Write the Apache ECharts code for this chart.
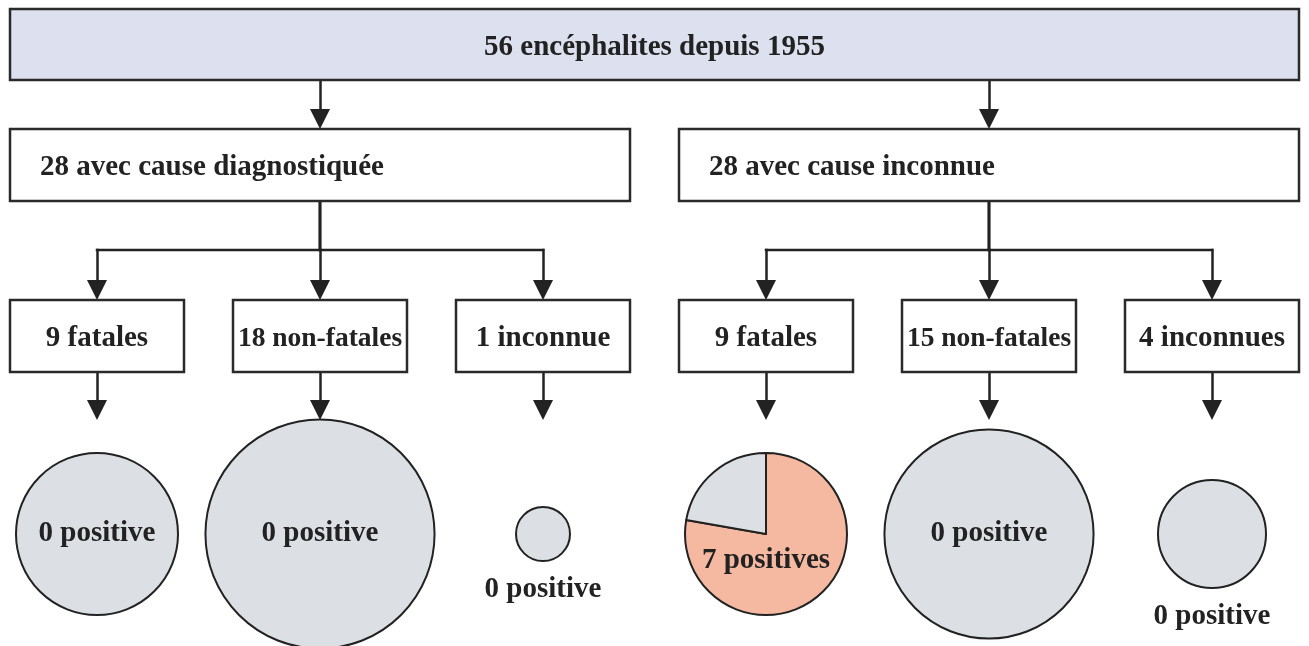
<!DOCTYPE html>
<html><head><meta charset="utf-8">
<script src="https://cdn.jsdelivr.net/npm/echarts@6/dist/echarts.min.js"></script>
<style>html,body{margin:0;padding:0;background:#fff}#c{width:1309px;height:646px}</style>
</head><body><div id="c"></div>
<script>
// ---------- data ----------
const rootLabels = ['56 encéphalites depuis 1955'];
const groupLabels = ['28 avec cause diagnostiquée', '28 avec cause inconnue'];
const outcomeLabels = ['9 fatales', '18 non-fatales', '1 inconnue', '9 fatales', '15 non-fatales', '4 inconnues'];
const outcomeGroups = [0, 0, 0, 1, 1, 1];
const outcomeCounts = [9, 18, 1, 9, 15, 4];
const positiveCounts = [0, 0, 0, 7, 0, 0];

// ---------- layout & style ----------
const W = 1309, H = 646;
const L = {
  leafX0: 97, leafStep: 223, leafHalfW: 87,
  rootY: [9, 80], groupY: [129, 201], leafY: [300, 372],
  branchY: 250, arrowTipY: 420, circleY: 534,
  radiusPerSqrt: 27, arrowSize: 20,
  groupPadLeft: 30, textDy: 3, circleTextDy: 4
};
const FONT = '"Liberation Serif", "Times New Roman", serif';
const FS = 29;
const INK = '#222222';
const GREY = '#dcdfe3';
const PINK = '#f5b9a1';
const ROOT_FILL = '#dde1ef';

const ctx = document.createElement('canvas').getContext('2d');
function fitSize(text, maxW, size) {
  while (size > 10) {
    ctx.font = 'bold ' + size + 'px ' + FONT;
    if (ctx.measureText(text).width <= maxW) break;
    size -= 0.5;
  }
  return size;
}

// leaf geometry
const leafX = outcomeLabels.map((_, i) => L.leafX0 + i * L.leafStep);
const groupIdx = groupLabels.map((_, g) => outcomeGroups.map((gg, i) => gg === g ? i : -1).filter(i => i >= 0));
const groupBox = groupIdx.map(ids => ({
  x0: leafX[ids[0]] - L.leafHalfW, x1: leafX[ids[ids.length - 1]] + L.leafHalfW,
  cx: ids.reduce((s, i) => s + leafX[i], 0) / ids.length
}));

// boxes (built from labels + layout)
const boxes = [];
boxes.push({ x0: leafX[0] - L.leafHalfW, x1: leafX[leafX.length - 1] + L.leafHalfW, y0: L.rootY[0], y1: L.rootY[1],
  text: rootLabels[0], fill: ROOT_FILL, align: 'center', size: FS });
groupLabels.forEach((t, g) => boxes.push({ x0: groupBox[g].x0, x1: groupBox[g].x1, y0: L.groupY[0], y1: L.groupY[1],
  text: t, fill: '#ffffff', align: 'left', size: FS }));
outcomeLabels.forEach((t, i) => boxes.push({ x0: leafX[i] - L.leafHalfW, x1: leafX[i] + L.leafHalfW, y0: L.leafY[0], y1: L.leafY[1],
  text: t, fill: '#ffffff', align: 'center', size: fitSize(t, 2 * L.leafHalfW - 8, FS) }));

// connectors: elbow parts (no arrow) + straight arrowed segments
const half = L.arrowSize / 2;
const elbows = [];
const arrows = [];
groupBox.forEach(gb => arrows.push({ coords: [[gb.cx, L.rootY[1]], [gb.cx, L.groupY[0] - half]] }));
outcomeGroups.forEach((g, i) => {
  elbows.push({ coords: [[groupBox[g].cx, L.groupY[1]], [groupBox[g].cx, L.branchY], [leafX[i], L.branchY]] });
  arrows.push({ coords: [[leafX[i], L.branchY], [leafX[i], L.leafY[0] - half]] });
});
leafX.forEach(x => arrows.push({ coords: [[x, L.leafY[1]], [x, L.arrowTipY - half]] }));

const chart = echarts.init(document.getElementById('c'), null, { renderer: 'canvas' });
chart.setOption({
  animation: false,
  backgroundColor: '#ffffff',
  grid: { left: 0, right: 0, top: 0, bottom: 0 },
  xAxis: { type: 'value', min: 0, max: W, show: false },
  yAxis: { type: 'value', min: 0, max: H, inverse: true, show: false },
  series: []
});

const circleLabelPos = outcomeCounts.map((n, i) => {
  const r = L.radiusPerSqrt * Math.sqrt(n);
  const p = positiveCounts[i];
  const inside = 2 * r > 140;
  return { x: leafX[i], y: L.circleY + L.circleTextDy + (inside ? (p > 0 ? 23 : -4) : r + 25),
    text: p + (p > 1 ? ' positives' : ' positive') };
});

const lineStyle = { color: INK, width: 2.5, opacity: 1, cap: 'square', join: 'miter' };
const series = [
  {
    type: 'lines', coordinateSystem: 'cartesian2d', polyline: true, silent: true,
    lineStyle: lineStyle, data: elbows
  },
  {
    type: 'lines', coordinateSystem: 'cartesian2d', polyline: false, silent: true,
    symbol: ['none', 'triangle'], symbolSize: L.arrowSize,
    lineStyle: lineStyle, itemStyle: { color: INK },
    data: arrows
  },
  {
    type: 'custom', coordinateSystem: 'cartesian2d', silent: true,
    data: boxes.map((b, i) => [i]),
    renderItem: function (params, api) {
      const b = boxes[params.dataIndex];
      const p0 = api.coord([b.x0, b.y0]), p1 = api.coord([b.x1, b.y1]);
      const tx = b.align === 'left' ? p0[0] + L.groupPadLeft : (p0[0] + p1[0]) / 2;
      return {
        type: 'group', children: [
          { type: 'rect', shape: { x: p0[0], y: p0[1], width: p1[0] - p0[0], height: p1[1] - p0[1] },
            style: { fill: b.fill, stroke: '#2a2a2a', lineWidth: 2.5 } },
          { type: 'text', x: tx, y: (p0[1] + p1[1]) / 2 + L.textDy,
            style: { text: b.text, fontFamily: FONT, fontWeight: 'bold', fontSize: b.size, fill: INK,
              align: b.align, verticalAlign: 'middle' } }
        ]
      };
    }
  }
];

outcomeCounts.forEach((n, i) => {
  const p = positiveCounts[i];
  const r = L.radiusPerSqrt * Math.sqrt(n);
  const c = chart.convertToPixel({ gridIndex: 0 }, [leafX[i], L.circleY]);
  const slices = [
    { name: 'positives', value: p, itemStyle: { color: PINK } },
    { name: 'négatives', value: n - p, itemStyle: { color: GREY } }
  ].filter(d => d.value > 0);
  series.push({
    type: 'pie', center: c, radius: r, startAngle: 90, clockwise: true, silent: true,
    avoidLabelOverlap: false, label: { show: false }, labelLine: { show: false },
    emphasis: { disabled: true },
    itemStyle: { borderColor: INK, borderWidth: 2 },
    data: slices
  });
});

series.push({
  type: 'custom', coordinateSystem: 'cartesian2d', silent: true, z: 10,
  data: circleLabelPos.map((_, i) => [i]),
  renderItem: function (params, api) {
    const d = circleLabelPos[params.dataIndex];
    const pt = api.coord([d.x, d.y]);
    return { type: 'text', x: pt[0], y: pt[1],
      style: { text: d.text, fontFamily: FONT, fontWeight: 'bold', fontSize: FS, fill: INK, align: 'center', verticalAlign: 'middle' } };
  }
});

chart.setOption({ series: series });
</script>
</body></html>
